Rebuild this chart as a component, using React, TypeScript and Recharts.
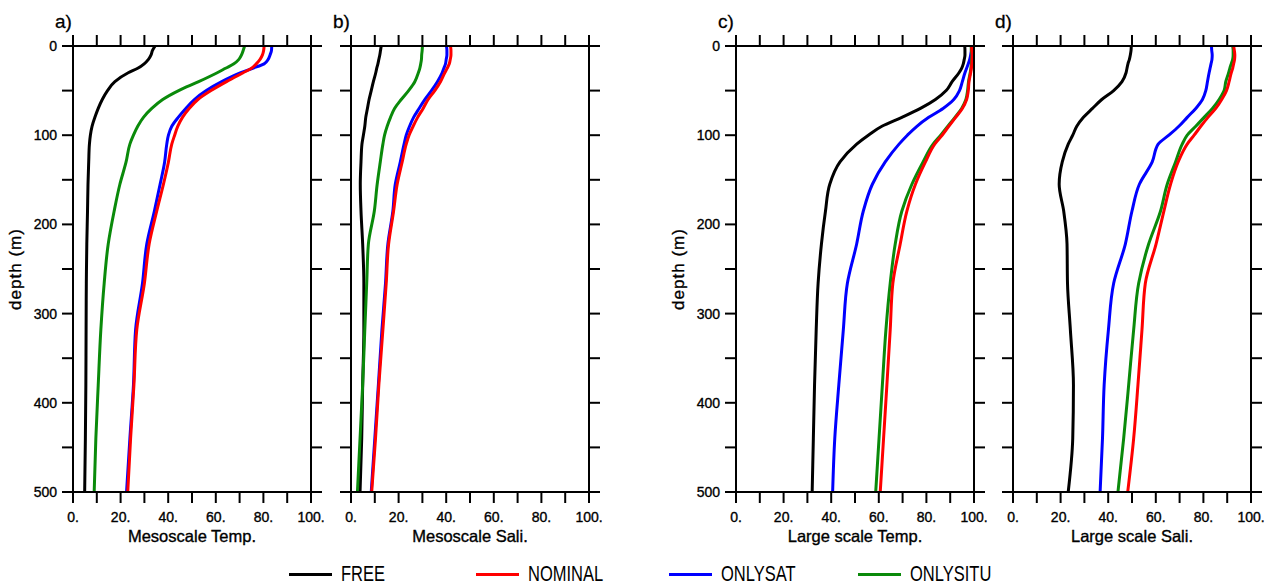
import { ComposedChart, Line, XAxis, YAxis } from 'recharts';

// model levels (m) shared by every profile
const DEPTHS = [0, 5, 10, 15, 20, 25, 30, 40, 50, 60, 70, 80, 90, 100, 110, 130, 155, 185, 222, 266, 318, 380, 440, 500];

const X_TICKS = [0, 10, 20, 30, 40, 50, 60, 70, 80, 90, 100];
const Y_TICKS = [0, 50, 100, 150, 200, 250, 300, 350, 400, 450, 500];

// a) Mesoscale Temp.
const A_FREE = [34.5, 33.4, 32.8, 31.7, 29.9, 27.2, 23.2, 17.6, 14.5, 12.3, 10.6, 9.2, 8.0, 7.3, 6.9, 6.6, 6.3, 6.1, 5.8, 5.6, 5.5, 5.4, 5.2, 4.9];
const A_NOMINAL = [80.3, 80.1, 79.6, 78.6, 77.0, 75.0, 71.5, 64.5, 58.0, 52.5, 48.8, 46.0, 44.0, 42.7, 41.5, 40.1, 38.0, 35.2, 32.0, 30.0, 26.8, 25.6, 24.2, 23.0];
const A_ONLYSAT = [83.5, 83.4, 82.8, 82.0, 80.3, 75.5, 70.5, 62.5, 56.0, 51.0, 47.4, 44.2, 41.5, 40.1, 39.4, 38.5, 36.6, 34.2, 31.0, 29.2, 26.3, 25.4, 23.9, 22.5];
const A_ONLYSITU = [72.1, 71.5, 70.8, 69.7, 67.6, 64.1, 60.6, 52.8, 44.4, 37.7, 33.1, 29.6, 27.2, 25.4, 23.9, 22.3, 19.7, 17.3, 14.8, 13.1, 11.7, 10.6, 9.6, 8.9];

// b) Mesoscale Sali.
const B_FREE = [12.7, 12.4, 12.1, 11.7, 11.3, 10.8, 10.4, 9.4, 8.5, 7.6, 6.9, 6.2, 5.8, 5.2, 4.6, 4.2, 3.9, 4.2, 4.9, 5.4, 5.4, 4.9, 4.5, 3.8];
const B_NOMINAL = [41.8, 42.0, 42.0, 41.7, 41.3, 40.4, 39.4, 37.6, 35.2, 32.4, 30.3, 28.0, 26.1, 24.4, 23.2, 21.5, 19.4, 17.9, 15.8, 14.8, 13.4, 11.7, 10.3, 8.7];
const B_ONLYSAT = [40.1, 40.3, 40.3, 40.0, 39.7, 39.0, 38.3, 36.3, 33.8, 31.0, 28.6, 26.3, 24.6, 23.2, 22.3, 20.7, 18.6, 17.6, 15.5, 14.5, 13.0, 11.5, 10.0, 8.5];
const B_ONLYSITU = [30.0, 29.9, 29.7, 29.6, 29.3, 28.9, 28.3, 26.8, 24.2, 21.1, 18.3, 16.6, 15.2, 14.1, 13.4, 12.3, 11.0, 9.8, 7.3, 6.6, 5.8, 4.9, 3.8, 2.7];

// c) Large scale Temp.
const C_FREE = [96.1, 96.2, 96.2, 95.9, 95.5, 94.8, 93.7, 90.8, 88.3, 83.8, 77.5, 69.7, 61.3, 55.6, 50.7, 43.7, 39.4, 37.6, 35.9, 34.5, 33.7, 33.0, 32.5, 32.0];
const C_NOMINAL = [99.0, 99.1, 99.3, 99.2, 99.1, 98.9, 98.6, 97.9, 97.6, 96.9, 95.1, 92.3, 89.4, 86.6, 83.5, 79.6, 75.4, 71.8, 69.0, 65.9, 64.8, 63.4, 62.0, 60.6];
const C_ONLYSAT = [99.0, 98.9, 98.6, 98.2, 97.6, 96.9, 96.2, 95.1, 93.9, 91.5, 87.0, 81.0, 76.0, 72.0, 68.5, 62.7, 57.3, 53.5, 50.7, 46.8, 45.1, 43.2, 41.5, 40.6];
const C_ONLYSITU = [98.8, 98.9, 99.1, 99.0, 98.9, 98.7, 98.4, 97.7, 97.3, 96.6, 94.8, 92.0, 89.0, 86.0, 82.8, 78.6, 73.9, 69.7, 66.9, 64.8, 63.0, 61.5, 60.1, 58.7];

// d) Large scale Sali.
const D_FREE = [49.7, 49.6, 49.3, 48.9, 48.3, 47.9, 47.5, 45.8, 42.3, 37.3, 33.4, 29.6, 26.8, 25.1, 23.2, 20.7, 19.4, 21.3, 22.7, 22.9, 24.1, 25.4, 25.1, 23.2];
const D_NOMINAL = [92.7, 93.0, 93.2, 93.1, 92.7, 92.3, 91.7, 90.8, 89.7, 87.7, 85.2, 81.9, 78.9, 76.1, 73.2, 69.4, 66.2, 63.4, 60.1, 55.6, 54.2, 52.5, 50.7, 48.2];
const D_ONLYSAT = [83.4, 83.5, 83.7, 83.6, 83.2, 82.8, 82.4, 81.7, 81.0, 79.6, 76.8, 73.2, 69.7, 65.5, 61.0, 58.5, 53.1, 50.0, 47.2, 42.3, 40.1, 38.3, 37.6, 36.6];
const D_ONLYSITU = [92.3, 92.5, 92.5, 92.3, 91.7, 91.1, 90.6, 89.4, 88.7, 86.6, 83.8, 80.3, 76.8, 73.2, 71.1, 68.3, 64.8, 62.0, 57.0, 52.8, 50.7, 48.6, 46.5, 44.1];

// draw order: red ends up on top
const SERIES = [
  { key: 'free', name: 'FREE', color: '#000000' },
  { key: 'onlysat', name: 'ONLYSAT', color: '#0000ff' },
  { key: 'onlysitu', name: 'ONLYSITU', color: '#0a8a0a' },
  { key: 'nominal', name: 'NOMINAL', color: '#ff0000' },
];

const FONT = '"Liberation Sans", Arial, Helvetica, sans-serif';
const tickStyle = { fill: '#000', fontSize: 14, fontFamily: FONT, stroke: '#000', strokeWidth: 0.35 };
const lineStyle = { stroke: '#000', strokeWidth: 2 };
const labelStyle = { fill: '#000', fontFamily: FONT, stroke: '#000', strokeWidth: 0.35 };

// tick marks without labels (tick={false} would drop the marks too)
const NoLabel = () => <g />;

function Panel({ left, letter, title, showDepth, free, nominal, onlysat, onlysitu }) {
  const data = DEPTHS.map((depth, i) => ({
    depth,
    free: free[i],
    nominal: nominal[i],
    onlysat: onlysat[i],
    onlysitu: onlysitu[i],
  }));

  return (
    <div style={{ position: 'absolute', left, top: 0, width: 330, height: 560 }}>
      <div style={{ position: 'absolute', left: 55, top: 11, fontFamily: FONT, fontSize: 19, WebkitTextStroke: '0.3px #000' }}>{letter}</div>
      <ComposedChart
        layout="vertical"
        width={330}
        height={560}
        data={data}
        margin={{ top: 35, right: 0, bottom: 12, left: 0 }}
      >
        <XAxis
          type="number"
          domain={[0, 100]}
          ticks={X_TICKS}
          interval={0}
          allowDataOverflow
          height={56}
          tickSize={11}
          tickMargin={9}
          tick={tickStyle}
          axisLine={lineStyle}
          tickLine={lineStyle}
          tickFormatter={(v) => (v % 20 === 0 ? `${v}.` : '')}
          label={{ value: title, position: 'insideBottom', offset: 6, style: { ...labelStyle, fontSize: 16.5 } }}
        />
        <XAxis
          xAxisId="top"
          orientation="top"
          type="number"
          domain={[0, 100]}
          ticks={X_TICKS}
          interval={0}
          allowDataOverflow
          height={11}
          tickSize={11}
          tick={NoLabel}
          axisLine={lineStyle}
          tickLine={lineStyle}
        />
        <YAxis
          type="number"
          dataKey="depth"
          domain={[0, 500]}
          ticks={Y_TICKS}
          interval={0}
          allowDataOverflow
          width={73}
          tickSize={11}
          tickMargin={5}
          tick={tickStyle}
          axisLine={lineStyle}
          tickLine={lineStyle}
          tickFormatter={(v) => (showDepth && v % 100 === 0 ? String(v) : '')}
          label={
            showDepth
              ? { value: 'depth (m)', angle: -90, position: 'insideLeft', offset: 15, style: { ...labelStyle, textAnchor: 'middle', fontSize: 17, letterSpacing: 1 } }
              : undefined
          }
        />
        <YAxis
          yAxisId="right"
          orientation="right"
          type="number"
          dataKey="depth"
          domain={[0, 500]}
          ticks={Y_TICKS}
          interval={0}
          allowDataOverflow
          width={19}
          tickSize={11}
          tick={NoLabel}
          axisLine={lineStyle}
          tickLine={lineStyle}
        />
        {SERIES.map((s) => (
          <Line
            key={s.key}
            type="monotone"
            dataKey={s.key}
            stroke={s.color}
            strokeWidth={3}
            dot={false}
            isAnimationActive={false}
          />
        ))}
      </ComposedChart>
    </div>
  );
}

const LEGEND = [
  { key: 'free', x: 289 },
  { key: 'nominal', x: 476 },
  { key: 'onlysat', x: 669 },
  { key: 'onlysitu', x: 858 },
];

export default function App() {
  return (
    <div style={{ position: 'absolute', left: 0, top: 0, width: 1271, height: 585, background: '#fff', overflow: 'hidden' }}>
      <Panel left={0} letter="a)" title="Mesoscale Temp." showDepth free={A_FREE} nominal={A_NOMINAL} onlysat={A_ONLYSAT} onlysitu={A_ONLYSITU} />
      <Panel left={278} letter="b)" title="Mesoscale Sali." showDepth={false} free={B_FREE} nominal={B_NOMINAL} onlysat={B_ONLYSAT} onlysitu={B_ONLYSITU} />
      <Panel left={663} letter="c)" title="Large scale Temp." showDepth free={C_FREE} nominal={C_NOMINAL} onlysat={C_ONLYSAT} onlysitu={C_ONLYSITU} />
      <Panel left={940} letter="d)" title="Large scale Sali." showDepth={false} free={D_FREE} nominal={D_NOMINAL} onlysat={D_ONLYSAT} onlysitu={D_ONLYSITU} />
      {LEGEND.map((item) => {
        const s = SERIES.find((d) => d.key === item.key);
        return (
          <div key={item.key} style={{ position: 'absolute', left: item.x, top: 561, height: 26, width: 200 }}>
            <div style={{ position: 'absolute', left: 0, top: 12, width: 43, height: 3, background: s.color }} />
            <div
              style={{
                position: 'absolute',
                left: 52,
                top: 0,
                fontFamily: FONT,
                fontSize: 22,
                lineHeight: '26px',
                transform: 'scaleX(0.75)',
                transformOrigin: 'left center',
                whiteSpace: 'nowrap',
              }}
            >
              {s.name}
            </div>
          </div>
        );
      })}
    </div>
  );
}
